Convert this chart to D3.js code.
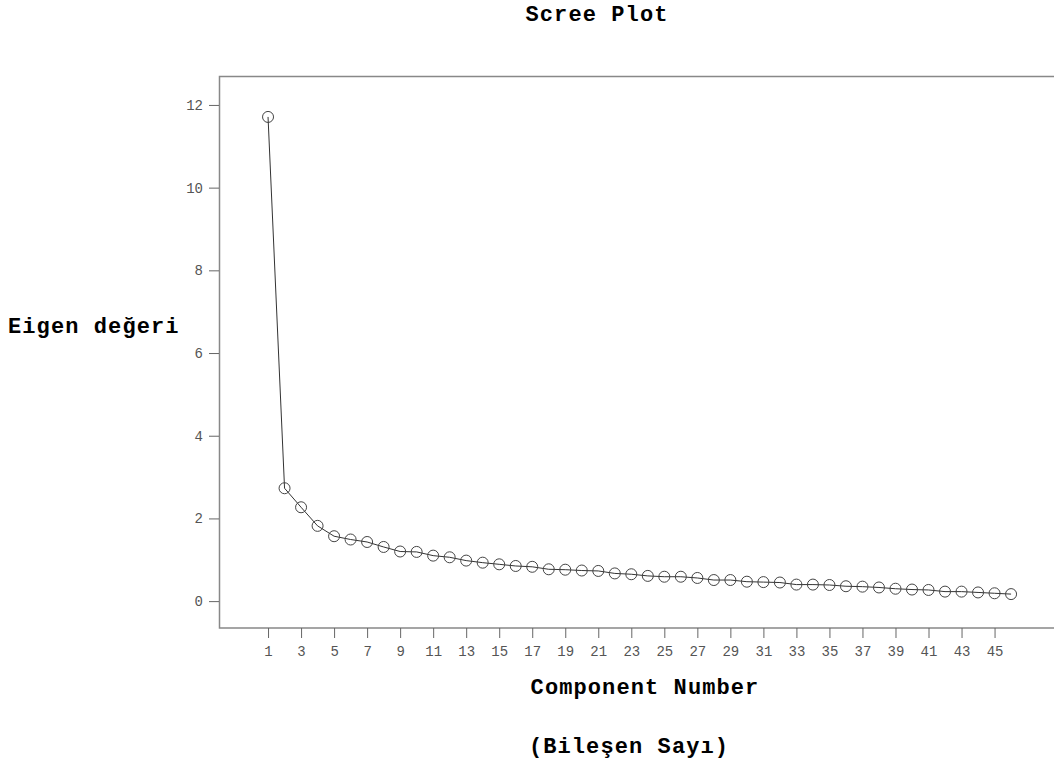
<!DOCTYPE html>
<html>
<head>
<meta charset="utf-8">
<script src="https://cdn.jsdelivr.net/npm/d3@7"></script>
<style>
  body { margin: 0; background: #fff; }
  svg { display: block; }
</style>
</head>
<body>
<svg id="chart"></svg>
<script>
// component numbers and eigenvalues
const components = d3.range(1, 47);
const eigenvalues = [11.71, 2.73, 2.27, 1.82, 1.57, 1.49, 1.43, 1.31, 1.20, 1.19,
    1.10, 1.06, 0.98, 0.93, 0.89, 0.85, 0.83, 0.77, 0.76, 0.74,
    0.73, 0.67, 0.65, 0.61, 0.59, 0.59, 0.56, 0.51, 0.51, 0.47,
    0.46, 0.45, 0.40, 0.40, 0.39, 0.36, 0.35, 0.33, 0.30, 0.28,
    0.27, 0.23, 0.23, 0.21, 0.19, 0.17];
const xTicks = d3.range(1, 46, 2);
const yTicks = [0, 2, 4, 6, 8, 10, 12];

const width = 1054, height = 763;
const margin = { top: 76, right: 0, bottom: 135, left: 219 };
const innerW = width - margin.left - margin.right;
const innerH = height - margin.top - margin.bottom;

const svg = d3.select('#chart')
    .attr('width', width)
    .attr('height', height);

const x = d3.scaleLinear().domain([-1.97, 48.6]).range([0, innerW]);
const y = d3.scaleLinear().domain([-0.65, 12.7]).range([innerH, 0]);

const g = svg.append('g')
    .attr('transform', `translate(${margin.left},${margin.top})`);

// frame: top, left, bottom (no right side)
g.append('path')
    .attr('d', `M${innerW},0.5H0.5V${innerH}H${innerW}`)
    .attr('fill', 'none')
    .attr('stroke', '#888')
    .attr('stroke-width', 1.5);

const xAxis = g.append('g')
    .attr('transform', `translate(0,${innerH})`)
    .call(d3.axisBottom(x).tickValues(xTicks).tickSize(10).tickPadding(8));
const yAxis = g.append('g')
    .call(d3.axisLeft(y).tickValues(yTicks).tickSize(10).tickPadding(6));

[xAxis, yAxis].forEach(a => {
    a.select('.domain').remove();
    a.selectAll('.tick line').attr('stroke', '#666');
    a.selectAll('.tick text')
        .attr('fill', '#555')
        .style('font-family', '"Liberation Mono", "DejaVu Sans Mono", monospace')
        .style('font-size', '14px');
});

const line = d3.line()
    .x((d, i) => x(components[i]))
    .y(d => y(d));

g.append('path')
    .datum(eigenvalues)
    .attr('d', line)
    .attr('fill', 'none')
    .attr('stroke', '#333')
    .attr('stroke-width', 1);

g.selectAll('circle')
    .data(eigenvalues)
    .enter()
    .append('circle')
    .attr('cx', (d, i) => x(components[i]))
    .attr('cy', d => y(d))
    .attr('r', 5.5)
    .attr('fill', 'none')
    .attr('stroke', '#444')
    .attr('stroke-width', 1);

const titleFont = '"Liberation Mono", "Courier New", monospace';
function label(txt, tx, ty, anchor) {
    svg.append('text')
        .attr('x', tx)
        .attr('y', ty)
        .attr('text-anchor', anchor)
        .style('font-family', titleFont)
        .style('font-weight', 'bold')
        .style('font-size', '22px')
        .style('letter-spacing', '1.1px')
        .attr('fill', '#000')
        .text(txt);
}
label('Scree Plot', 597, 21, 'middle');
label('Eigen değeri', 8, 333, 'start');
label('Component Number', 645, 694, 'middle');
label('(Bileşen Sayı)', 629, 753, 'middle');
</script>
</body>
</html>
